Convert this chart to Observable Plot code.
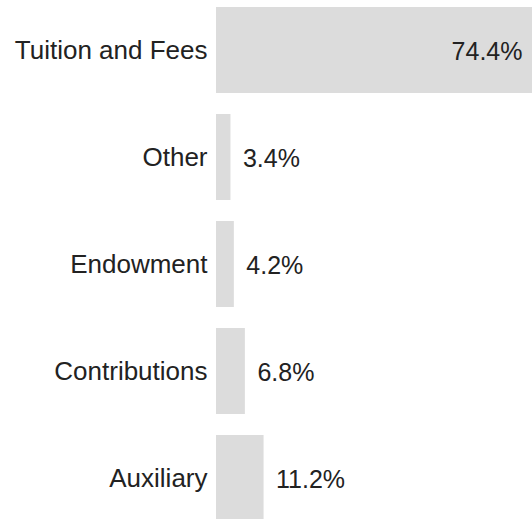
<!DOCTYPE html>
<html>
<head>
<meta charset="utf-8">
<script src="https://cdn.jsdelivr.net/npm/d3@7"></script>
<script src="https://cdn.jsdelivr.net/npm/@observablehq/plot@0.6"></script>
<style>
  html, body { margin: 0; padding: 0; background: #fff; }
</style>
</head>
<body>
<div id="chart"></div>
<script>
const categories = ["Tuition and Fees", "Other", "Endowment", "Contributions", "Auxiliary"];
const values = [74.4, 3.4, 4.2, 6.8, 11.2];
const labels = ["74.4%", "3.4%", "4.2%", "6.8%", "11.2%"];

const data = categories.map((c, i) => ({category: c, value: values[i], label: labels[i]}));
const maxValue = d3.max(values);

const chart = Plot.plot({
  width: 532,
  height: 521,
  marginLeft: 216,
  marginRight: 0,
  marginTop: 7,
  marginBottom: 0,
  style: {fontFamily: "'Liberation Sans', Arial, sans-serif", fontSize: "26px", color: "#222", background: "#fff"},
  x: {domain: [0, maxValue], axis: null},
  y: {domain: categories, paddingInner: 0.2, paddingOuter: 0, label: null},
  marks: [
    Plot.barX(data, {x: "value", y: "category", fill: "#dcdcdc"}),
    Plot.axisY({tickSize: 0, tickPadding: 9, fontSize: 26, fill: "#222", label: null}),
    Plot.text(data.filter(d => d.value === maxValue), {x: "value", y: "category", text: "label", textAnchor: "end", dx: -10, dy: 1, fontSize: 25, fill: "#222"}),
    Plot.text(data.filter(d => d.value !== maxValue), {x: "value", y: "category", text: "label", textAnchor: "start", dx: 12, dy: 1, fontSize: 25, fill: "#222"})
  ]
});
document.getElementById("chart").append(chart);
</script>
</body>
</html>
